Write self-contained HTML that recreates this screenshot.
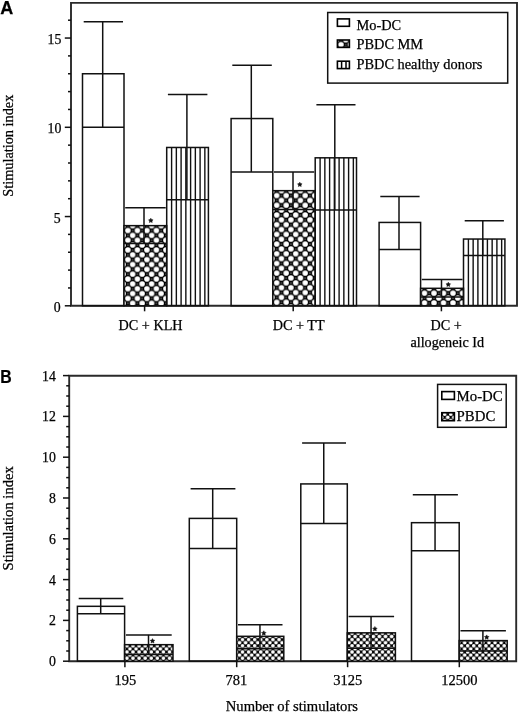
<!DOCTYPE html>
<html><head><meta charset="utf-8"><title>Stimulation index</title>
<style>
html,body{margin:0;padding:0;background:#fff;}
body{width:520px;height:713px;overflow:hidden;}
svg{display:block;will-change:transform;}
text{font-family:"Liberation Serif",serif;fill:#000;stroke:#000;stroke-width:0.25px;}
text.lt{font-family:"Liberation Sans",sans-serif;font-weight:bold;}
</style></head><body>
<svg width="520" height="713" viewBox="0 0 520 713">
<defs>
<pattern id="pa0" patternUnits="userSpaceOnUse" x="127.9" y="230.5" width="9.5" height="9.7"><rect width="9.5" height="9.7" fill="#000"/><circle cx="0" cy="0" r="2.75" fill="#fff"/><circle cx="9.5" cy="0" r="2.75" fill="#fff"/><circle cx="0" cy="9.7" r="2.75" fill="#fff"/><circle cx="9.5" cy="9.7" r="2.75" fill="#fff"/><circle cx="4.75" cy="4.85" r="2.75" fill="#fff"/><circle cx="4.75" cy="0" r="0.55" fill="#fff"/><circle cx="4.75" cy="9.7" r="0.55" fill="#fff"/><circle cx="0" cy="4.85" r="0.55" fill="#fff"/><circle cx="9.5" cy="4.85" r="0.55" fill="#fff"/></pattern>
<pattern id="pa1" patternUnits="userSpaceOnUse" x="276.7" y="195.52" width="9.5" height="9.7"><rect width="9.5" height="9.7" fill="#000"/><circle cx="0" cy="0" r="2.75" fill="#fff"/><circle cx="9.5" cy="0" r="2.75" fill="#fff"/><circle cx="0" cy="9.7" r="2.75" fill="#fff"/><circle cx="9.5" cy="9.7" r="2.75" fill="#fff"/><circle cx="4.75" cy="4.85" r="2.75" fill="#fff"/><circle cx="4.75" cy="0" r="0.55" fill="#fff"/><circle cx="4.75" cy="9.7" r="0.55" fill="#fff"/><circle cx="0" cy="4.85" r="0.55" fill="#fff"/><circle cx="9.5" cy="4.85" r="0.55" fill="#fff"/></pattern>
<pattern id="pa2" patternUnits="userSpaceOnUse" x="424.5" y="293.16" width="9.5" height="9.7"><rect width="9.5" height="9.7" fill="#000"/><circle cx="0" cy="0" r="2.75" fill="#fff"/><circle cx="9.5" cy="0" r="2.75" fill="#fff"/><circle cx="0" cy="9.7" r="2.75" fill="#fff"/><circle cx="9.5" cy="9.7" r="2.75" fill="#fff"/><circle cx="4.75" cy="4.85" r="2.75" fill="#fff"/><circle cx="4.75" cy="0" r="0.55" fill="#fff"/><circle cx="4.75" cy="9.7" r="0.55" fill="#fff"/><circle cx="0" cy="4.85" r="0.55" fill="#fff"/><circle cx="9.5" cy="4.85" r="0.55" fill="#fff"/></pattern>
<pattern id="pla" patternUnits="userSpaceOnUse" x="341" y="44.6" width="9.5" height="9.7"><rect width="9.5" height="9.7" fill="#000"/><circle cx="0" cy="0" r="2.75" fill="#fff"/><circle cx="9.5" cy="0" r="2.75" fill="#fff"/><circle cx="0" cy="9.7" r="2.75" fill="#fff"/><circle cx="9.5" cy="9.7" r="2.75" fill="#fff"/><circle cx="4.75" cy="4.85" r="2.75" fill="#fff"/><circle cx="4.75" cy="0" r="0.55" fill="#fff"/><circle cx="4.75" cy="9.7" r="0.55" fill="#fff"/><circle cx="0" cy="4.85" r="0.55" fill="#fff"/><circle cx="9.5" cy="4.85" r="0.55" fill="#fff"/></pattern>
<pattern id="pb0" patternUnits="userSpaceOnUse" x="126.9" y="658.2" width="6.085" height="6.2"><rect width="6.085" height="6.2" fill="#000"/><circle cx="0" cy="0" r="1.85" fill="#fff"/><circle cx="6.085" cy="0" r="1.85" fill="#fff"/><circle cx="0" cy="6.2" r="1.85" fill="#fff"/><circle cx="6.085" cy="6.2" r="1.85" fill="#fff"/><circle cx="3.0425" cy="3.1" r="1.85" fill="#fff"/></pattern>
<pattern id="plb" patternUnits="userSpaceOnUse" x="444.7" y="414.3" width="6.085" height="6.2"><rect width="6.085" height="6.2" fill="#000"/><circle cx="0" cy="0" r="1.85" fill="#fff"/><circle cx="6.085" cy="0" r="1.85" fill="#fff"/><circle cx="0" cy="6.2" r="1.85" fill="#fff"/><circle cx="6.085" cy="6.2" r="1.85" fill="#fff"/><circle cx="3.0425" cy="3.1" r="1.85" fill="#fff"/></pattern>
</defs>
<g stroke="#111" fill="none" stroke-linecap="butt">
<path d="M71 2.9H517V305.8H71Z" stroke="#2a2a2a" stroke-width="1.9" fill="none"/>
<line x1="64.8" y1="305.8" x2="71" y2="305.8" stroke-width="1.5"/>
<line x1="68" y1="287.95" x2="71" y2="287.95" stroke-width="1.5"/>
<line x1="68" y1="270.1" x2="71" y2="270.1" stroke-width="1.5"/>
<line x1="68" y1="252.25" x2="71" y2="252.25" stroke-width="1.5"/>
<line x1="68" y1="234.4" x2="71" y2="234.4" stroke-width="1.5"/>
<line x1="64.8" y1="216.55" x2="71" y2="216.55" stroke-width="1.5"/>
<line x1="68" y1="198.7" x2="71" y2="198.7" stroke-width="1.5"/>
<line x1="68" y1="180.85" x2="71" y2="180.85" stroke-width="1.5"/>
<line x1="68" y1="163" x2="71" y2="163" stroke-width="1.5"/>
<line x1="68" y1="145.15" x2="71" y2="145.15" stroke-width="1.5"/>
<line x1="64.8" y1="127.3" x2="71" y2="127.3" stroke-width="1.5"/>
<line x1="68" y1="109.45" x2="71" y2="109.45" stroke-width="1.5"/>
<line x1="68" y1="91.6" x2="71" y2="91.6" stroke-width="1.5"/>
<line x1="68" y1="73.75" x2="71" y2="73.75" stroke-width="1.5"/>
<line x1="68" y1="55.9" x2="71" y2="55.9" stroke-width="1.5"/>
<line x1="64.8" y1="38.05" x2="71" y2="38.05" stroke-width="1.5"/>
<line x1="68" y1="20.2" x2="71" y2="20.2" stroke-width="1.5"/>
<line x1="144.6" y1="305.8" x2="144.6" y2="311.3" stroke-width="1.5"/>
<line x1="293.2" y1="305.8" x2="293.2" y2="311.3" stroke-width="1.5"/>
<line x1="441.4" y1="305.8" x2="441.4" y2="311.3" stroke-width="1.5"/>
</g>
<g stroke="#111" fill="none">
<rect x="82.5" y="73.75" width="41.5" height="232.05" fill="none" stroke-width="1.5"/>
<line x1="102.7" y1="21.63" x2="102.7" y2="127.3" stroke-width="1.5"/>
<line x1="83.7" y1="21.63" x2="123" y2="21.63" stroke-width="1.5"/>
<line x1="82.5" y1="127.3" x2="124" y2="127.3" stroke-width="1.5"/>
</g>
<rect x="124" y="225.65" width="42.7" height="80.15" fill="url(#pa0)"/>
<g stroke="#111" fill="none">
<rect x="124" y="225.65" width="42.7" height="80.15" fill="none" stroke-width="1.5"/>
<line x1="144" y1="207.8" x2="144" y2="243.5" stroke-width="1.5"/>
<line x1="125.2" y1="207.8" x2="165.7" y2="207.8" stroke-width="1.5"/>
<line x1="124" y1="243.5" x2="166.7" y2="243.5" stroke-width="1.5"/>
</g>
<g stroke="#111" fill="none">
<line x1="171.6" y1="147.47" x2="171.6" y2="305.8" stroke-width="1.4"/>
<line x1="176.35" y1="147.47" x2="176.35" y2="305.8" stroke-width="1.4"/>
<line x1="181.1" y1="147.47" x2="181.1" y2="305.8" stroke-width="1.4"/>
<line x1="185.85" y1="147.47" x2="185.85" y2="305.8" stroke-width="1.4"/>
<line x1="190.6" y1="147.47" x2="190.6" y2="305.8" stroke-width="1.4"/>
<line x1="195.35" y1="147.47" x2="195.35" y2="305.8" stroke-width="1.4"/>
<line x1="200.1" y1="147.47" x2="200.1" y2="305.8" stroke-width="1.4"/>
<line x1="204.85" y1="147.47" x2="204.85" y2="305.8" stroke-width="1.4"/>
<rect x="166.7" y="147.47" width="41.7" height="158.33" fill="none" stroke-width="1.5"/>
<line x1="186.9" y1="94.46" x2="186.9" y2="199.77" stroke-width="1.5"/>
<line x1="167.9" y1="94.46" x2="207.4" y2="94.46" stroke-width="1.5"/>
<line x1="166.7" y1="199.77" x2="208.4" y2="199.77" stroke-width="1.5"/>
</g>
<g stroke="#111" fill="none">
<rect x="231.1" y="118.55" width="41.7" height="187.25" fill="none" stroke-width="1.5"/>
<line x1="251.3" y1="65.36" x2="251.3" y2="171.93" stroke-width="1.5"/>
<line x1="232.3" y1="65.36" x2="271.8" y2="65.36" stroke-width="1.5"/>
<line x1="231.1" y1="171.93" x2="272.8" y2="171.93" stroke-width="1.5"/>
</g>
<rect x="272.8" y="190.67" width="42.4" height="115.13" fill="url(#pa1)"/>
<g stroke="#111" fill="none">
<rect x="272.8" y="190.67" width="42.4" height="115.13" fill="none" stroke-width="1.5"/>
<line x1="293" y1="171.93" x2="293" y2="209.41" stroke-width="1.5"/>
<line x1="274" y1="171.93" x2="314.2" y2="171.93" stroke-width="1.5"/>
<line x1="272.8" y1="209.41" x2="315.2" y2="209.41" stroke-width="1.5"/>
</g>
<g stroke="#111" fill="none">
<line x1="320.1" y1="157.82" x2="320.1" y2="305.8" stroke-width="1.4"/>
<line x1="324.85" y1="157.82" x2="324.85" y2="305.8" stroke-width="1.4"/>
<line x1="329.6" y1="157.82" x2="329.6" y2="305.8" stroke-width="1.4"/>
<line x1="334.35" y1="157.82" x2="334.35" y2="305.8" stroke-width="1.4"/>
<line x1="339.1" y1="157.82" x2="339.1" y2="305.8" stroke-width="1.4"/>
<line x1="343.85" y1="157.82" x2="343.85" y2="305.8" stroke-width="1.4"/>
<line x1="348.6" y1="157.82" x2="348.6" y2="305.8" stroke-width="1.4"/>
<line x1="353.35" y1="157.82" x2="353.35" y2="305.8" stroke-width="1.4"/>
<rect x="315.2" y="157.82" width="41.3" height="147.98" fill="none" stroke-width="1.5"/>
<line x1="334.8" y1="104.63" x2="334.8" y2="210.12" stroke-width="1.5"/>
<line x1="316.4" y1="104.63" x2="355.5" y2="104.63" stroke-width="1.5"/>
<line x1="315.2" y1="210.12" x2="356.5" y2="210.12" stroke-width="1.5"/>
</g>
<g stroke="#111" fill="none">
<rect x="379.1" y="222.44" width="41.5" height="83.36" fill="none" stroke-width="1.5"/>
<line x1="399" y1="196.38" x2="399" y2="249.57" stroke-width="1.5"/>
<line x1="380.3" y1="196.38" x2="419.6" y2="196.38" stroke-width="1.5"/>
<line x1="379.1" y1="249.57" x2="420.6" y2="249.57" stroke-width="1.5"/>
</g>
<rect x="420.6" y="288.31" width="42.9" height="17.49" fill="url(#pa2)"/>
<g stroke="#111" fill="none">
<rect x="420.6" y="288.31" width="42.9" height="17.49" fill="none" stroke-width="1.5"/>
<line x1="441.5" y1="279.38" x2="441.5" y2="296.88" stroke-width="1.5"/>
<line x1="421.8" y1="279.38" x2="462.5" y2="279.38" stroke-width="1.5"/>
<line x1="420.6" y1="296.88" x2="463.5" y2="296.88" stroke-width="1.5"/>
</g>
<g stroke="#111" fill="none">
<line x1="468.4" y1="239.04" x2="468.4" y2="305.8" stroke-width="1.4"/>
<line x1="473.15" y1="239.04" x2="473.15" y2="305.8" stroke-width="1.4"/>
<line x1="477.9" y1="239.04" x2="477.9" y2="305.8" stroke-width="1.4"/>
<line x1="482.65" y1="239.04" x2="482.65" y2="305.8" stroke-width="1.4"/>
<line x1="487.4" y1="239.04" x2="487.4" y2="305.8" stroke-width="1.4"/>
<line x1="492.15" y1="239.04" x2="492.15" y2="305.8" stroke-width="1.4"/>
<line x1="496.9" y1="239.04" x2="496.9" y2="305.8" stroke-width="1.4"/>
<line x1="501.65" y1="239.04" x2="501.65" y2="305.8" stroke-width="1.4"/>
<rect x="463.5" y="239.04" width="41.4" height="66.76" fill="none" stroke-width="1.5"/>
<line x1="482.8" y1="220.66" x2="482.8" y2="255.46" stroke-width="1.5"/>
<line x1="464.7" y1="220.66" x2="503.9" y2="220.66" stroke-width="1.5"/>
<line x1="463.5" y1="255.46" x2="504.9" y2="255.46" stroke-width="1.5"/>
</g>
<polygon points="150.8,218.2 151.53,219.59 153.08,219.86 151.99,220.99 152.21,222.54 150.8,221.85 149.39,222.54 149.61,220.99 148.52,219.86 150.07,219.59" fill="#111" stroke="#111" stroke-width="0.5" stroke-linejoin="round"/>
<polygon points="299.8,182.2 300.53,183.59 302.08,183.86 300.99,184.99 301.21,186.54 299.8,185.85 298.39,186.54 298.61,184.99 297.52,183.86 299.07,183.59" fill="#111" stroke="#111" stroke-width="0.5" stroke-linejoin="round"/>
<polygon points="448.3,282.2 449.03,283.59 450.58,283.86 449.49,284.99 449.71,286.54 448.3,285.85 446.89,286.54 447.11,284.99 446.02,283.86 447.57,283.59" fill="#111" stroke="#111" stroke-width="0.5" stroke-linejoin="round"/>
<text x="60.6" y="312.2" font-size="13.8" text-anchor="end" >0</text>
<text x="60.6" y="222.95" font-size="13.8" text-anchor="end" >5</text>
<text x="61.4" y="132.9" font-size="13.8" text-anchor="end" >10</text>
<text x="61.4" y="43.65" font-size="13.8" text-anchor="end" >15</text>
<text x="118.6" y="329.7" font-size="14.2" text-anchor="start" >DC + KLH</text>
<text x="272.8" y="329.7" font-size="14.2" text-anchor="start" >DC + TT</text>
<text x="430.5" y="329.7" font-size="14.2" text-anchor="start" >DC +</text>
<text x="410.4" y="346.7" font-size="14.2" text-anchor="start" >allogeneic Id</text>
<text transform="translate(12.7,145.7) rotate(-90)" font-size="14.3" text-anchor="middle">Stimulation index</text>
<text x="0.3" y="13.8" class="lt" font-size="18">A</text>
<g stroke="#111" fill="none">
<rect x="327.7" y="12.5" width="180" height="70.6" fill="none" stroke-width="1.5"/>
</g>
<g stroke="#000" fill="none" stroke-width="1.6">
<rect x="337.4" y="18.9" width="12" height="7.4" fill="#fff" stroke-width="1.6"/>
<rect x="337.4" y="40" width="12" height="7.4" fill="url(#pla)" stroke-width="1.6"/>
<rect x="337.4" y="61.2" width="12" height="7.4" fill="#fff" stroke-width="1.6"/>
<line x1="341.6" y1="61.2" x2="341.6" y2="68.6" stroke-width="1.5"/>
<line x1="346" y1="61.2" x2="346" y2="68.6" stroke-width="1.5"/>
</g>
<text x="356.5" y="30.2" font-size="14.35" text-anchor="start" >Mo-DC</text>
<text x="356.5" y="49.3" font-size="14.35" text-anchor="start" >PBDC MM</text>
<text x="356.5" y="68.7" font-size="14.35" text-anchor="start" >PBDC healthy donors</text>
<g stroke="#111" fill="none">
<path d="M69.2 375.7H516.2V661.2H69.2Z" stroke="#2a2a2a" stroke-width="1.9" fill="none"/>
<line x1="63" y1="661.2" x2="69.2" y2="661.2" stroke-width="1.5"/>
<line x1="66.2" y1="651" x2="69.2" y2="651" stroke-width="1.5"/>
<line x1="66.2" y1="640.8" x2="69.2" y2="640.8" stroke-width="1.5"/>
<line x1="66.2" y1="630.6" x2="69.2" y2="630.6" stroke-width="1.5"/>
<line x1="63" y1="620.4" x2="69.2" y2="620.4" stroke-width="1.5"/>
<line x1="66.2" y1="610.2" x2="69.2" y2="610.2" stroke-width="1.5"/>
<line x1="66.2" y1="600" x2="69.2" y2="600" stroke-width="1.5"/>
<line x1="66.2" y1="589.8" x2="69.2" y2="589.8" stroke-width="1.5"/>
<line x1="63" y1="579.6" x2="69.2" y2="579.6" stroke-width="1.5"/>
<line x1="66.2" y1="569.4" x2="69.2" y2="569.4" stroke-width="1.5"/>
<line x1="66.2" y1="559.2" x2="69.2" y2="559.2" stroke-width="1.5"/>
<line x1="66.2" y1="549" x2="69.2" y2="549" stroke-width="1.5"/>
<line x1="63" y1="538.8" x2="69.2" y2="538.8" stroke-width="1.5"/>
<line x1="66.2" y1="528.6" x2="69.2" y2="528.6" stroke-width="1.5"/>
<line x1="66.2" y1="518.4" x2="69.2" y2="518.4" stroke-width="1.5"/>
<line x1="66.2" y1="508.2" x2="69.2" y2="508.2" stroke-width="1.5"/>
<line x1="63" y1="498" x2="69.2" y2="498" stroke-width="1.5"/>
<line x1="66.2" y1="487.8" x2="69.2" y2="487.8" stroke-width="1.5"/>
<line x1="66.2" y1="477.6" x2="69.2" y2="477.6" stroke-width="1.5"/>
<line x1="66.2" y1="467.4" x2="69.2" y2="467.4" stroke-width="1.5"/>
<line x1="63" y1="457.2" x2="69.2" y2="457.2" stroke-width="1.5"/>
<line x1="66.2" y1="447" x2="69.2" y2="447" stroke-width="1.5"/>
<line x1="66.2" y1="436.8" x2="69.2" y2="436.8" stroke-width="1.5"/>
<line x1="66.2" y1="426.6" x2="69.2" y2="426.6" stroke-width="1.5"/>
<line x1="63" y1="416.4" x2="69.2" y2="416.4" stroke-width="1.5"/>
<line x1="66.2" y1="406.2" x2="69.2" y2="406.2" stroke-width="1.5"/>
<line x1="66.2" y1="396" x2="69.2" y2="396" stroke-width="1.5"/>
<line x1="66.2" y1="385.8" x2="69.2" y2="385.8" stroke-width="1.5"/>
<line x1="63" y1="375.6" x2="69.2" y2="375.6" stroke-width="1.5"/>
<line x1="124.9" y1="661.2" x2="124.9" y2="667.2" stroke-width="1.5"/>
<line x1="236.7" y1="661.2" x2="236.7" y2="667.2" stroke-width="1.5"/>
<line x1="347.6" y1="661.2" x2="347.6" y2="667.2" stroke-width="1.5"/>
<line x1="459.3" y1="661.2" x2="459.3" y2="667.2" stroke-width="1.5"/>
</g>
<g stroke="#111" fill="none">
<rect x="77.4" y="606.32" width="47.2" height="54.88" fill="none" stroke-width="1.5"/>
<line x1="100.7" y1="598.57" x2="100.7" y2="613.87" stroke-width="1.5"/>
<line x1="78.7" y1="598.57" x2="123.3" y2="598.57" stroke-width="1.5"/>
<line x1="77.4" y1="613.87" x2="124.6" y2="613.87" stroke-width="1.5"/>
</g>
<rect x="124.6" y="644.68" width="48.4" height="16.52" fill="url(#pb0)"/>
<g stroke="#111" fill="none">
<rect x="124.6" y="644.68" width="48.4" height="16.52" fill="none" stroke-width="1.5"/>
<line x1="148.5" y1="634.88" x2="148.5" y2="654.47" stroke-width="1.5"/>
<line x1="125.9" y1="634.88" x2="171.7" y2="634.88" stroke-width="1.5"/>
<line x1="124.6" y1="654.47" x2="173" y2="654.47" stroke-width="1.5"/>
</g>
<g stroke="#111" fill="none">
<rect x="189.3" y="518.4" width="47.4" height="142.8" fill="none" stroke-width="1.5"/>
<line x1="212.7" y1="488.82" x2="212.7" y2="548.59" stroke-width="1.5"/>
<line x1="190.6" y1="488.82" x2="235.4" y2="488.82" stroke-width="1.5"/>
<line x1="189.3" y1="548.59" x2="236.7" y2="548.59" stroke-width="1.5"/>
</g>
<rect x="236.7" y="636.31" width="47.1" height="24.89" fill="url(#pb0)"/>
<g stroke="#111" fill="none">
<rect x="236.7" y="636.31" width="47.1" height="24.89" fill="none" stroke-width="1.5"/>
<line x1="259.95" y1="624.68" x2="259.95" y2="648.76" stroke-width="1.5"/>
<line x1="238" y1="624.68" x2="282.5" y2="624.68" stroke-width="1.5"/>
<line x1="236.7" y1="648.76" x2="283.8" y2="648.76" stroke-width="1.5"/>
</g>
<g stroke="#111" fill="none">
<rect x="300.8" y="483.92" width="46.5" height="177.28" fill="none" stroke-width="1.5"/>
<line x1="323.75" y1="442.92" x2="323.75" y2="523.5" stroke-width="1.5"/>
<line x1="302.1" y1="442.92" x2="346" y2="442.92" stroke-width="1.5"/>
<line x1="300.8" y1="523.5" x2="347.3" y2="523.5" stroke-width="1.5"/>
</g>
<rect x="347.3" y="632.84" width="48.1" height="28.36" fill="url(#pb0)"/>
<g stroke="#111" fill="none">
<rect x="347.3" y="632.84" width="48.1" height="28.36" fill="none" stroke-width="1.5"/>
<line x1="371.05" y1="616.52" x2="371.05" y2="648.35" stroke-width="1.5"/>
<line x1="348.6" y1="616.52" x2="394.1" y2="616.52" stroke-width="1.5"/>
<line x1="347.3" y1="648.35" x2="395.4" y2="648.35" stroke-width="1.5"/>
</g>
<g stroke="#111" fill="none">
<rect x="411.5" y="522.68" width="47.7" height="138.52" fill="none" stroke-width="1.5"/>
<line x1="435.05" y1="494.74" x2="435.05" y2="550.63" stroke-width="1.5"/>
<line x1="412.8" y1="494.74" x2="457.9" y2="494.74" stroke-width="1.5"/>
<line x1="411.5" y1="550.63" x2="459.2" y2="550.63" stroke-width="1.5"/>
</g>
<rect x="459.2" y="640.6" width="48" height="20.6" fill="url(#pb0)"/>
<g stroke="#111" fill="none">
<rect x="459.2" y="640.6" width="48" height="20.6" fill="none" stroke-width="1.5"/>
<line x1="482.9" y1="630.8" x2="482.9" y2="651" stroke-width="1.5"/>
<line x1="460.5" y1="630.8" x2="505.9" y2="630.8" stroke-width="1.5"/>
<line x1="459.2" y1="651" x2="507.2" y2="651" stroke-width="1.5"/>
</g>
<polygon points="152.5,638.6 153.23,639.99 154.78,640.26 153.69,641.39 153.91,642.94 152.5,642.25 151.09,642.94 151.31,641.39 150.22,640.26 151.77,639.99" fill="#111" stroke="#111" stroke-width="0.5" stroke-linejoin="round"/>
<polygon points="263.8,630.8 264.53,632.19 266.08,632.46 264.99,633.59 265.21,635.14 263.8,634.45 262.39,635.14 262.61,633.59 261.52,632.46 263.07,632.19" fill="#111" stroke="#111" stroke-width="0.5" stroke-linejoin="round"/>
<polygon points="374.9,626.5 375.63,627.89 377.18,628.16 376.09,629.29 376.31,630.84 374.9,630.15 373.49,630.84 373.71,629.29 372.62,628.16 374.17,627.89" fill="#111" stroke="#111" stroke-width="0.5" stroke-linejoin="round"/>
<polygon points="486.7,634.9 487.43,636.29 488.98,636.56 487.89,637.69 488.11,639.24 486.7,638.55 485.29,639.24 485.51,637.69 484.42,636.56 485.97,636.29" fill="#111" stroke="#111" stroke-width="0.5" stroke-linejoin="round"/>
<text x="55.8" y="666.2" font-size="13.8" text-anchor="end" >0</text>
<text x="55.8" y="625.4" font-size="13.8" text-anchor="end" >2</text>
<text x="55.8" y="584.6" font-size="13.8" text-anchor="end" >4</text>
<text x="55.8" y="543.8" font-size="13.8" text-anchor="end" >6</text>
<text x="55.8" y="503" font-size="13.8" text-anchor="end" >8</text>
<text x="55.8" y="462.2" font-size="13.8" text-anchor="end" >10</text>
<text x="55.8" y="421.4" font-size="13.8" text-anchor="end" >12</text>
<text x="55.8" y="380.6" font-size="13.8" text-anchor="end" >14</text>
<text x="125.3" y="685" font-size="14.5" text-anchor="middle" >195</text>
<text x="236.4" y="685" font-size="14.5" text-anchor="middle" >781</text>
<text x="347.7" y="685" font-size="14.5" text-anchor="middle" >3125</text>
<text x="459.4" y="685" font-size="14.5" text-anchor="middle" >12500</text>
<text x="225.8" y="710.5" font-size="14.6" text-anchor="start" >Number of stimulators</text>
<text transform="translate(12.5,518.3) rotate(-90)" font-size="14.6" text-anchor="middle">Stimulation index</text>
<text transform="translate(0.3,383.1) scale(0.88,1)" x="0" y="0" class="lt" font-size="18">B</text>
<g stroke="#111" fill="none">
<rect x="437.6" y="384.4" width="68.6" height="42.9" fill="none" stroke-width="1.5"/>
</g>
<g stroke="#000" fill="none">
<rect x="441.8" y="391.6" width="12.6" height="7.8" fill="#fff" stroke-width="1.6"/>
<rect x="441.8" y="412.7" width="12.6" height="8" fill="url(#plb)" stroke-width="1.6"/>
</g>
<text x="456.6" y="400.6" font-size="14.8" text-anchor="start" >Mo-DC</text>
<text x="456.6" y="421.3" font-size="14.8" text-anchor="start" >PBDC</text>
</svg>
</body></html>
